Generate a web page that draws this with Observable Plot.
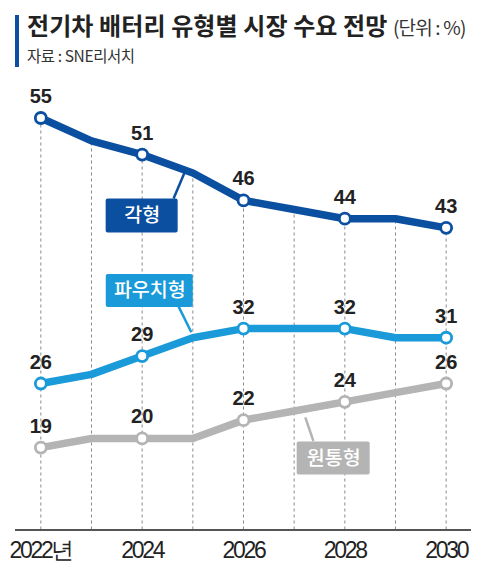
<!DOCTYPE html>
<html>
<head>
<meta charset="utf-8">
<script src="https://cdn.jsdelivr.net/npm/d3@7"></script>
<script src="https://cdn.jsdelivr.net/npm/@observablehq/plot@0.6"></script>
<style>
  html, body { margin: 0; padding: 0; background: #fff; }
  #wrap { width: 485px; height: 573px; position: relative; overflow: hidden; }
  #head { position: absolute; left: 0; top: 0; width: 485px; height: 75px; }
  #bar { position: absolute; left: 15px; top: 15px; width: 4px; height: 52px; background: #0b4fa0; }
  #title { position: absolute; left: 27px; top: 7px; white-space: nowrap; color: #222;
           font-family: "Noto Sans CJK KR", "Noto Sans", sans-serif; font-weight: 700; font-size: 24px; letter-spacing: 0.1px; }
  #title .unit { font-weight: 400; font-size: 19px; letter-spacing: -0.8px; color: #333; margin-left: 2px; }
  #sub { position: absolute; left: 27px; top: 44px; white-space: nowrap; color: #333;
         font-family: "Noto Sans CJK KR", "Noto Sans", sans-serif; font-size: 15.5px; letter-spacing: -0.4px; }
  #chart { position: absolute; left: 0; top: 75px; }
  #chart g[aria-label="x-axis tick label"] { letter-spacing: -2.3px; }
</style>
</head>
<body>
<div id="wrap">
  <div id="head">
    <div id="bar"></div>
    <div id="title">전기차 배터리 유형별 시장 수요 전망<span class="unit"> (단위 : %)</span></div>
    <div id="sub">자료 : SNE리서치</div>
  </div>
  <div id="chart"></div>
</div>
<script>
// ---- data ----
const years = [2022, 2023, 2024, 2025, 2026, 2027, 2028, 2029, 2030];
const seriesNames = ["각형", "파우치형", "원통형"];
const prismatic   = [55, 52.5, 51, 49, 46, 45, 44, 44, 43];
const pouch       = [26, 27, 29, 31, 32, 32, 32, 31, 31];
const cylindrical = [19, 20, 20, 20, 22, 23, 24, 25, 26];
const tickYears = [2022, 2024, 2026, 2028, 2030];
const colors = ["#0b4fa0", "#1a9ad9", "#b4b4b4"];

// series label callouts (anchor in data coordinates)
const calloutName = ["각형", "파우치형", "원통형"];
const calloutX    = [2024.0, 2024.15, 2027.78];
const calloutY    = [44.3, 36.1, 17.8];
const leaderX1    = [2024.62, 2024.72, 2027.38];
const leaderY1    = [46.2, 34.4, 19.7];
const leaderX2    = [2024.85, 2024.97, 2027.22];
const leaderY2    = [49.2, 31.6, 22.3];

const valuesBySeries = [prismatic, pouch, cylindrical];
const rows = [];
seriesNames.forEach((s, i) => years.forEach((y, j) => rows.push({series: s, year: y, value: valuesBySeries[i][j]})));
const labeled = rows.filter(d => tickYears.includes(d.year));
const grid = years.map((y, j) => ({year: y, top: prismatic[j]}));
const callouts = calloutName.map((n, i) => ({series: n, x: calloutX[i], y: calloutY[i],
  x1: leaderX1[i], y1: leaderY1[i], x2: leaderX2[i], y2: leaderY2[i]}));

const boxSize = {"각형": [36, 17], "파우치형": [43.5, 16.5], "원통형": [36.5, 16.5]};

const chart = Plot.plot({
  width: 485,
  height: 498,
  marginLeft: 15,
  marginRight: 14,
  marginTop: 42.5,
  marginBottom: 43.5,
  x: {domain: [2021.5, 2030.5], axis: null},
  y: {domain: [10, 55], axis: null},
  color: {domain: seriesNames, range: colors},
  style: {fontFamily: "Liberation Sans, Arial, sans-serif", background: "transparent"},
  marks: [
    Plot.ruleX(grid, {x: "year", y1: 10, y2: "top", stroke: "#8a8a8a", strokeWidth: 1, strokeDasharray: "3,3"}),
    Plot.ruleY([10], {stroke: "#555", strokeWidth: 2}),
    Plot.axisX({ticks: tickYears, tickSize: 0, tickPadding: 12, fontSize: 23,
      fontFamily: "Liberation Sans, Arial, sans-serif", fill: "#222",
      tickFormat: d => d === 2022 ? "2022년" : String(d)}),
    Plot.line(rows, {x: "year", y: "value", z: "series", stroke: "series", strokeWidth: 7.5,
      strokeLinejoin: "round", strokeLinecap: "round"}),
    Plot.link(callouts, {x1: "x1", y1: "y1", x2: "x2", y2: "y2", stroke: "series", strokeWidth: 2.5}),
    ...callouts.map(c => Plot.rect([c], {x1: "x", x2: "x", y1: "y", y2: "y", fill: "series", rx: 2,
      insetLeft: -boxSize[c.series][0], insetRight: -boxSize[c.series][0],
      insetTop: -boxSize[c.series][1], insetBottom: -boxSize[c.series][1]})),
    Plot.text(callouts, {x: "x", y: "y", text: "series", fill: "white", fontSize: 19.5,
      fontFamily: "Noto Sans CJK KR, sans-serif", fontWeight: 500}),
    Plot.dot(rows.filter(d => tickYears.includes(d.year)), {x: "year", y: "value", stroke: "series",
      fill: "white", r: 5.5, strokeWidth: 2.8}),
    Plot.text(labeled, {x: "year", y: "value", text: d => String(d.value), lineAnchor: "bottom", dy: -15,
      fontSize: 20, fontWeight: "bold", fill: "#222", fontFamily: "Liberation Sans, Arial, sans-serif"})
  ]
});
document.getElementById("chart").appendChild(chart);
</script>
</body>
</html>
